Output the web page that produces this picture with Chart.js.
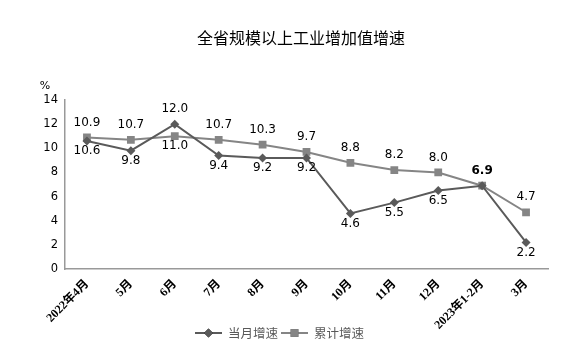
<!DOCTYPE html>
<html lang="zh">
<head>
    <meta charset="UTF-8">
    <title>全省规模以上工业增加值增速</title>
    <style>
        body {
            margin: 0;
            background-color: #ffffff;
        }

        #wrap {
            width: 577px;
            height: 361px;
        }
    </style>
</head>
<body>
    <div id="wrap"><canvas id="growthChart"></canvas></div>

    <script src="https://cdn.jsdelivr.net/npm/chart.js"></script>
    <script>
        const months = ['2022年4月', '5月', '6月', '7月', '8月', '9月', '10月', '11月', '12月', '2023年1-2月', '3月'];
        const monthly = [10.6, 9.8, 12.0, 9.4, 9.2, 9.2, 4.6, 5.5, 6.5, 6.9, 2.2];
        const cumulative = [10.9, 10.7, 11.0, 10.7, 10.3, 9.7, 8.8, 8.2, 8.0, 6.9, 4.7];
        const yTicks = [0, 2, 4, 6, 8, 10, 12, 14];

        // where each value label sits: a = above, b = below, null = not drawn
        const monthlyLabelPos = ['b', 'b', 'a', 'b', 'b', 'b', 'b', 'b', 'b', null, 'b'];
        const cumulativeLabelPos = ['a', 'a', 'b', 'a', 'a', 'a', 'a', 'a', 'a', 'a', 'a'];

        const numFont = '"DejaVu Sans", Verdana, sans-serif';
        const cjkFont = '"Noto Sans CJK SC", "DejaVu Sans", sans-serif';
        const tickFont = '"Liberation Serif", "Noto Sans CJK SC", serif';

        const valueLabels = {
            id: 'valueLabels',
            afterDatasetsDraw(chart) {
                const ctx = chart.ctx;
                ctx.save();
                ctx.textAlign = 'center';
                ctx.textBaseline = 'middle';
                ctx.fillStyle = '#000000';
                chart.data.datasets.forEach((ds, di) => {
                    const meta = chart.getDatasetMeta(di);
                    meta.data.forEach((pt, i) => {
                        const pos = ds.labelPos[i];
                        if (!pos) return;
                        const bold = ds.data[i] === 6.9 && pos === 'a';
                        ctx.font = (bold ? 'bold ' : '') + '12px ' + numFont;
                        const y = pos === 'a' ? pt.y - 15 : pt.y + 10;
                        ctx.fillText(ds.data[i].toFixed(1), pt.x, y);
                    });
                });
                ctx.restore();
            }
        };

        const extras = {
            id: 'extras',
            afterDraw(chart) {
                const ctx = chart.ctx;
                ctx.save();
                // title
                ctx.fillStyle = '#000000';
                ctx.font = '16px ' + cjkFont;
                ctx.textAlign = 'center';
                ctx.textBaseline = 'middle';
                ctx.fillText('全省规模以上工业增加值增速', 301, 38);

                // unit over the y axis
                ctx.font = '11px ' + numFont;
                ctx.fillText('%', 45, 86);

                // legend: line + marker, then text
                const y = 333;
                const items = [
                    { x: 195, text: '当月增速', ds: chart.data.datasets[0] },
                    { x: 281, text: '累计增速', ds: chart.data.datasets[1] }
                ];
                items.forEach(it => {
                    ctx.strokeStyle = it.ds.borderColor;
                    ctx.lineWidth = 2;
                    ctx.beginPath();
                    ctx.moveTo(it.x, y);
                    ctx.lineTo(it.x + 27, y);
                    ctx.stroke();
                    Chart.helpers.drawPoint(ctx, {
                        pointStyle: it.ds.pointStyle,
                        radius: it.ds.pointRadius,
                        borderWidth: 0
                    }, it.x + 13.5, y);
                    ctx.fillStyle = it.ds.borderColor;
                    ctx.fill();
                    ctx.fillStyle = '#595959';
                    ctx.font = '12.5px ' + cjkFont;
                    ctx.textAlign = 'left';
                    ctx.fillText(it.text, it.x + 33, y);
                });
                ctx.restore();
            }
        };

        new Chart(document.getElementById('growthChart').getContext('2d'), {
            type: 'line',
            data: {
                labels: months,
                datasets: [{
                    label: '当月增速',
                    data: monthly,
                    labelPos: monthlyLabelPos,
                    borderColor: '#5a5a5a',
                    backgroundColor: '#5a5a5a',
                    borderWidth: 2,
                    pointStyle: 'rectRot',
                    pointRadius: 4.5,
                    pointBorderWidth: 0,
                    tension: 0,
                    fill: false
                }, {
                    label: '累计增速',
                    data: cumulative,
                    labelPos: cumulativeLabelPos,
                    borderColor: '#858585',
                    backgroundColor: '#858585',
                    borderWidth: 2,
                    pointStyle: 'rect',
                    pointRadius: 5.5,
                    pointBorderWidth: 0,
                    tension: 0,
                    fill: false
                }]
            },
            options: {
                responsive: true,
                maintainAspectRatio: false,
                animation: false,
                layout: { padding: { left: 0, right: 29, top: 100, bottom: 0 } },
                plugins: {
                    legend: { display: false },
                    tooltip: { enabled: false },
                    title: { display: false }
                },
                scales: {
                    x: {
                        offset: true,
                        grid: { display: false, drawTicks: false },
                        border: { color: '#999999', width: 1.5 },
                        ticks: {
                            color: '#000000',
                            font: { family: tickFont, size: 12, weight: 'bold' },
                            minRotation: 45,
                            maxRotation: 45,
                            autoSkip: false,
                            padding: 8
                        },
                        afterFit: s => { s.height = 92; }
                    },
                    y: {
                        min: 0,
                        max: 14,
                        afterBuildTicks: s => { s.ticks = yTicks.map(v => ({ value: v })); },
                        grid: { display: false, drawTicks: false },
                        border: { color: '#999999', width: 1.5 },
                        ticks: {
                            color: '#000000',
                            font: { family: numFont, size: 11.5 },
                            padding: 7
                        },
                        afterFit: s => { s.width = 65; }
                    }
                }
            },
            plugins: [valueLabels, extras]
        });
    </script>
</body>
</html>
